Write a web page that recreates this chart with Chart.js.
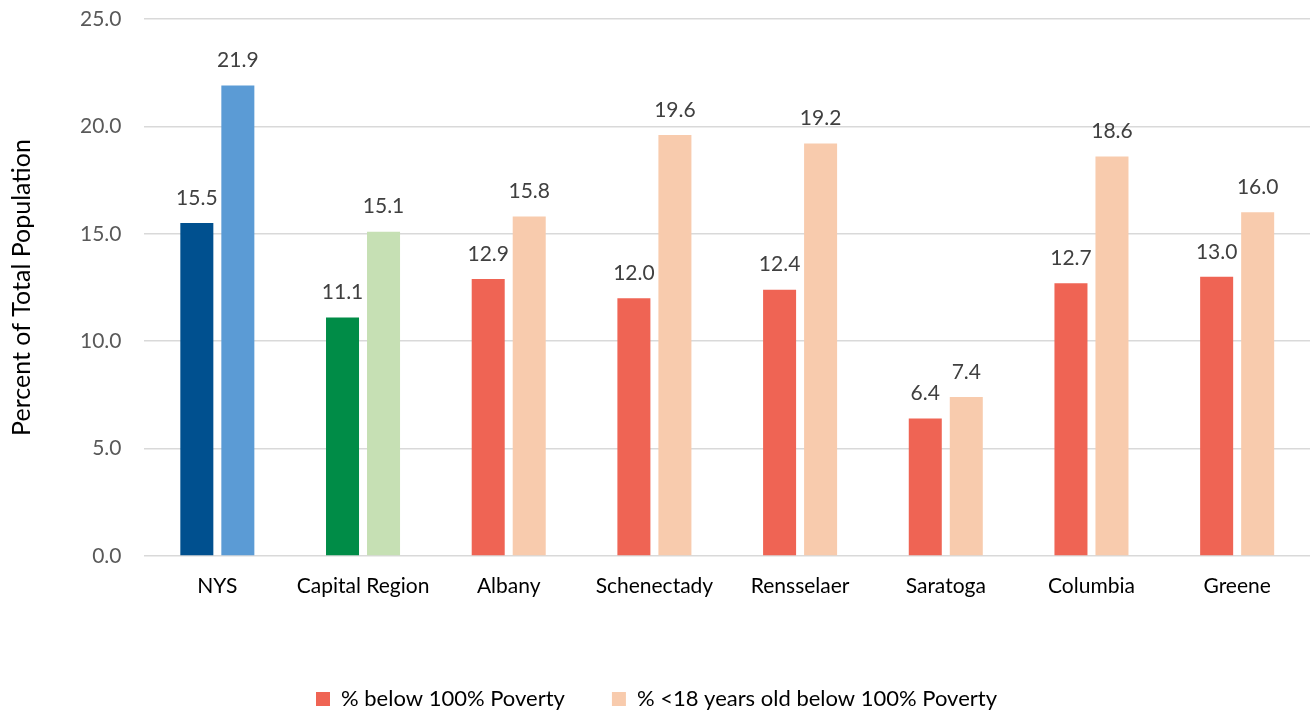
<!DOCTYPE html>
<html>
<head>
<meta charset="utf-8">
<script src="https://cdn.jsdelivr.net/npm/chart.js@4.4.1/dist/chart.umd.min.js"></script>
<style>
  html, body { margin: 0; padding: 0; background: #fff; }
  #wrap { width: 1310px; height: 713px; }
</style>
</head>
<body>
<div id="wrap"><canvas id="poverty-chart" width="1310" height="713"></canvas></div>
<script>
// Poverty rates by area
const categories = ['NYS', 'Capital Region', 'Albany', 'Schenectady', 'Rensselaer', 'Saratoga', 'Columbia', 'Greene'];
const belowPoverty = [15.5, 11.1, 12.9, 12.0, 12.4, 6.4, 12.7, 13.0];
const under18Poverty = [21.9, 15.1, 15.8, 19.6, 19.2, 7.4, 18.6, 16.0];
const seriesNames = ['% below 100% Poverty', '% <18 years old below 100% Poverty'];

// Colours per bar (NYS blue, region green, counties red/peach)
const belowColors = ['#00508F', '#008C47', '#EF6454', '#EF6454', '#EF6454', '#EF6454', '#EF6454', '#EF6454'];
const under18Colors = ['#5B9BD5', '#C6E0B4', '#F8CBAD', '#F8CBAD', '#F8CBAD', '#F8CBAD', '#F8CBAD', '#F8CBAD'];
const legendColors = ['#EF6454', '#F8CBAD'];

const fontFamily = 'Lato, "Open Sans", sans-serif';

// Draw values above each bar
const valueLabels = {
    id: 'valueLabels',
    afterDatasetsDraw(chart) {
        const ctx = chart.ctx;
        ctx.save();
        ctx.font = '21px ' + fontFamily;
        ctx.fillStyle = '#404040';
        ctx.textAlign = 'center';
        ctx.textBaseline = 'middle';
        chart.data.datasets.forEach((ds, i) => {
            chart.getDatasetMeta(i).data.forEach((bar, j) => {
                ctx.fillText(ds.data[j].toFixed(1), bar.x, bar.y - 25);
            });
        });
        ctx.restore();
    }
};

const ctx = document.getElementById('poverty-chart').getContext('2d');
new Chart(ctx, {
    type: 'bar',
    data: {
        labels: categories,
        datasets: [{
            label: seriesNames[0] + '        ',
            data: belowPoverty,
            backgroundColor: belowColors,
            categoryPercentage: 0.563,
            barPercentage: 0.805
        }, {
            label: seriesNames[1],
            data: under18Poverty,
            backgroundColor: under18Colors,
            categoryPercentage: 0.563,
            barPercentage: 0.805
        }]
    },
    options: {
        responsive: false,
        animation: false,
        layout: { padding: { top: 19, right: 0, left: 3, bottom: -7 } },
        plugins: {
            tooltip: { enabled: false },
            legend: {
                position: 'bottom',
                labels: {
                    font: { family: fontFamily, size: 22 },
                    color: '#000',
                    boxWidth: 14,
                    boxHeight: 14,
                    padding: 2,
                    generateLabels: chart => chart.data.datasets.map((ds, i) => ({
                        text: ds.label,
                        fillStyle: legendColors[i],
                        strokeStyle: legendColors[i],
                        lineWidth: 0,
                        datasetIndex: i
                    }))
                }
            }
        },
        scales: {
            x: {
                grid: { display: false },
                border: { display: false },
                ticks: { font: { family: fontFamily, size: 21 }, color: '#000', padding: 10 },
                afterFit: scale => { scale.height = 130; }
            },
            y: {
                min: 0,
                max: 25,
                afterFit: scale => { scale.paddingTop = 0; },
                ticks: {
                    stepSize: 5,
                    font: { family: fontFamily, size: 21 },
                    color: '#595959',
                    padding: 23,
                    callback: v => v.toFixed(1)
                },
                grid: { color: '#D9D9D9', lineWidth: 1.5, drawTicks: false },
                border: { display: false },
                title: {
                    display: true,
                    text: 'Percent of Total Population',
                    font: { family: fontFamily, size: 25 },
                    color: '#000',
                    padding: { bottom: 20 }
                }
            }
        }
    },
    plugins: [valueLabels]
});
</script>
</body>
</html>
